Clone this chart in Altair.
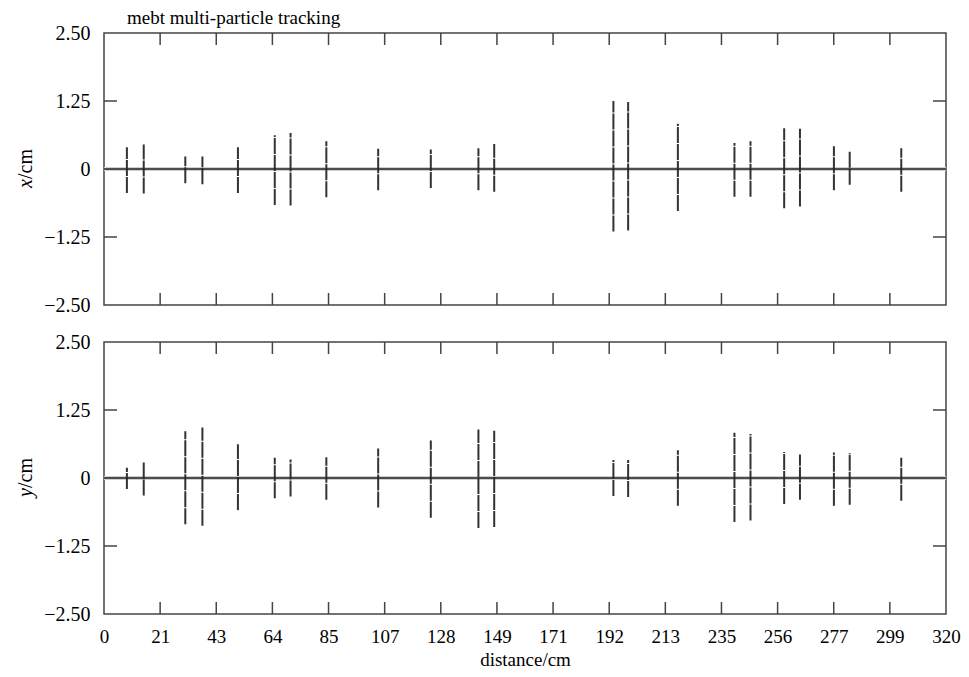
import altair as alt
import pandas as pd

# ---- data ----
positions = [8.7, 15.1, 30.9, 37.4, 50.9, 64.9, 70.9, 84.5, 104.2, 124.2, 142.3,
             148.3, 193.6, 199.2, 218.1, 239.6, 245.7, 258.5, 264.5, 277.4, 283.4, 303.0]
x_upper = [0.40, 0.45, 0.23, 0.23, 0.40, 0.62, 0.66, 0.51, 0.37, 0.36, 0.38,
           0.46, 1.25, 1.23, 0.83, 0.48, 0.51, 0.75, 0.74, 0.42, 0.32, 0.38]
x_lower = [-0.44, -0.45, -0.26, -0.28, -0.44, -0.66, -0.67, -0.52, -0.39, -0.35, -0.39,
           -0.42, -1.15, -1.13, -0.77, -0.51, -0.51, -0.72, -0.69, -0.39, -0.29, -0.42]
y_upper = [0.19, 0.30, 0.86, 0.93, 0.62, 0.37, 0.34, 0.38, 0.54, 0.69, 0.89,
           0.87, 0.33, 0.33, 0.51, 0.83, 0.81, 0.48, 0.43, 0.47, 0.46, 0.37]
y_lower = [-0.20, -0.32, -0.85, -0.88, -0.59, -0.37, -0.34, -0.40, -0.54, -0.73, -0.92,
           -0.90, -0.33, -0.35, -0.51, -0.81, -0.78, -0.48, -0.40, -0.51, -0.49, -0.42]
x_tick_values = [i * 320 / 15 for i in range(16)]
y_tick_values = [-2.5, -1.25, 0, 1.25, 2.5]
inner_y_ticks = [-1.25, 1.25]
title_text = "mebt multi-particle tracking"
x_title = "distance/cm"

W, H = 842, 272
FONT = "Liberation Serif"
FRAME = "#444444"
BAR = "#333333"

xscale = alt.Scale(domain=[0, 320], nice=False, zero=False)
yscale = alt.Scale(domain=[-2.5, 2.5], nice=False, zero=False)

yaxis = alt.Axis(values=y_tick_values,
                 labelExpr="datum.value == 0 ? '0' : format(datum.value, '.2f')",
                 title=None, ticks=False, tickSize=0, domain=False, grid=False,
                 labelFont=FONT, labelFontSize=20, labelColor="black",
                 labelPadding=14, labelOverlap=False)


def make_xaxis(show):
    if show:
        return alt.Axis(values=x_tick_values, format=".0f", title=x_title,
                        ticks=False, tickSize=0, domain=False, grid=False,
                        labelFlush=False, labelOverlap=False, labelFont=FONT,
                        labelFontSize=19, labelColor="black", labelPadding=13,
                        titleFont=FONT, titleFontSize=19, titleFontWeight="normal",
                        titleColor="black", titlePadding=4)
    return None


def panel(lo, hi, var, show_x, with_title):
    xaxis = make_xaxis(show_x)
    df = pd.DataFrame({"pos": positions, "lo": lo, "hi": hi})
    X = lambda f: alt.X(f, scale=xscale, axis=xaxis)
    Y = lambda f: alt.Y(f, scale=yscale, axis=yaxis)

    zero_halo = alt.Chart(pd.DataFrame({"z": [0]})).mark_rule(
        color="#cfcfcf", strokeWidth=4).encode(y=Y("z:Q"))
    zero_line = alt.Chart(pd.DataFrame({"z": [0]})).mark_rule(
        color="#222222", strokeWidth=1.5).encode(y=Y("z:Q"))
    bars = alt.Chart(df).mark_rule(color=BAR, strokeWidth=2, strokeDash=[16, 1]).encode(
        x=X("pos:Q"), y=Y("lo:Q"), y2="hi:Q")

    xt = pd.DataFrame({"t": x_tick_values[1:-1]})
    yt = pd.DataFrame({"t": inner_y_ticks})
    tk = dict(color=FRAME, strokeWidth=1.5)
    top_ticks = alt.Chart(xt).mark_rule(**tk).encode(
        x=X("t:Q"), y=alt.value(0), y2=alt.value(12))
    bot_ticks = alt.Chart(xt).mark_rule(**tk).encode(
        x=X("t:Q"), y=alt.value(H - 12), y2=alt.value(H))
    left_ticks = alt.Chart(yt).mark_rule(**tk).encode(
        y=Y("t:Q"), x=alt.value(0), x2=alt.value(13))
    right_ticks = alt.Chart(yt).mark_rule(**tk).encode(
        y=Y("t:Q"), x=alt.value(W - 13), x2=alt.value(W))

    var_txt = alt.Chart(pd.DataFrame({"s": [var]})).mark_text(
        angle=270, align="right", baseline="middle", font=FONT, fontSize=20,
        fontStyle="italic", color="black").encode(
        text="s:N", x=alt.value(-78), y=alt.value(146))
    unit_txt = alt.Chart(pd.DataFrame({"s": ["/cm"]})).mark_text(
        angle=270, align="left", baseline="middle", font=FONT, fontSize=20,
        color="black").encode(
        text="s:N", x=alt.value(-78), y=alt.value(146))

    layers = [zero_halo, bars, zero_line, top_ticks, bot_ticks, left_ticks,
              right_ticks, var_txt, unit_txt]
    if with_title:
        ttl = alt.Chart(pd.DataFrame({"s": [title_text]})).mark_text(
            align="left", baseline="alphabetic", font=FONT, fontSize=19,
            color="black").encode(text="s:N", x=alt.value(23), y=alt.value(-9))
        layers.append(ttl)
    return alt.layer(*layers).properties(width=W, height=H)


top = panel(x_lower, x_upper, "x", False, True)
bottom = panel(y_lower, y_upper, "y", True, False)

chart = alt.vconcat(top, bottom, spacing=37, bounds="flush").properties(
    padding={"left": 7, "top": 0, "right": 0, "bottom": 0},
    background="white"
).configure_view(stroke=FRAME, strokeWidth=1.5)

chart.save("out.html", embed_options={"renderer": "svg", "actions": False})
